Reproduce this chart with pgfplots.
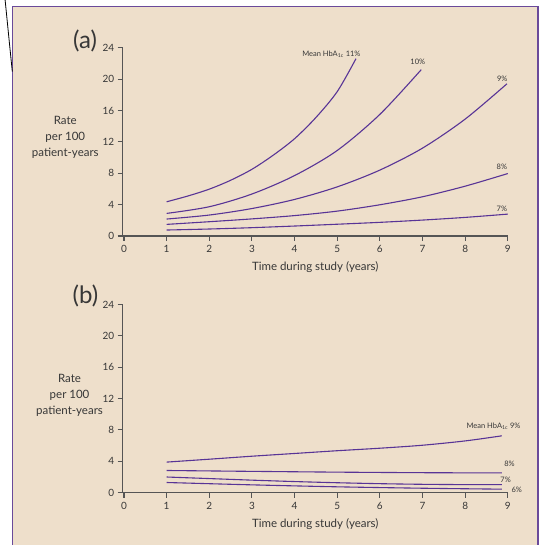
\documentclass[border=0pt]{standalone}
\usepackage{pgfplots}
\pgfplotsset{compat=1.18}
\usepackage{fontspec}
\setmainfont{Lato}
\definecolor{bg}{RGB}{238,223,203}
\definecolor{frame}{RGB}{106,74,154}
\definecolor{curve}{RGB}{88,52,150}
\definecolor{axcol}{RGB}{85,85,85}
\definecolor{txt}{RGB}{55,55,55}
\pgfplotsset{
  cv/.style={curve, line width=1.1pt, smooth, tension=0.5, no marks},
  panel/.style={
    scale only axis, width=385.1pt, height=188.3pt,
    xmin=-0.03, xmax=9, ymin=0, ymax=24,
    axis lines*=left, axis line style={axcol, line width=1.1pt},
    tick style={axcol, line width=1.1pt}, tick align=outside, major tick length=5pt,
    xtick={0,...,9}, ytick={0,4,...,24},
    ticklabel style={font=\fontsize{10}{12}\selectfont, text=txt},
    xticklabel style={yshift=-1pt},
    /pgf/number format/assume math mode=true,
    xlabel={Time during study (years)},
    xlabel style={font=\fontsize{11.5}{13}\selectfont, text=txt, at={(axis description cs:0.5,-0.166)}, anchor=center},
    ylabel={Rate\\per 100\\patient-years},
    ylabel style={rotate=-90, font=\fontsize{11.5}{16}\selectfont, text=txt, align=center, anchor=center},
    clip=false,
  }
}
\begin{document}
\begin{tikzpicture}[x=1pt,y=1pt]
\useasboundingbox (0,0) rectangle (543,545);
\clip (0,0) rectangle (543,545);
\fill[white] (0,0) rectangle (543,545);
\fill[bg] (12.3,-2) rectangle (537.7,538.3);
\draw[frame, line width=1.6pt] (12.3,-2) -- (12.3,538.3) -- (537.7,538.3) -- (537.7,-2);
\draw[black, line width=0.8pt] (5,546) -- (12.3,473.3);
\node[text=txt, font=\fontsize{24}{26}\selectfont] at (85,504.3) {(a)};
\node[text=txt, font=\fontsize{24}{26}\selectfont] at (85.5,249) {(b)};
% Panel (a)
\begin{axis}[panel, at={(122.7pt,309pt)}, anchor=south west,
  ylabel style={at={(axis description cs:-0.149,0.526)}}]
\addplot[cv] coordinates {(1,4.36) (1.5,5.1) (2,5.97) (2.5,7.1) (3,8.5) (3.5,10.3) (4,12.4) (4.5,15.1) (5,18.4) (5.44,22.6)};
\addplot[cv] coordinates {(1,2.88) (2,3.73) (3,5.35) (4,7.7) (5,10.9) (6,15.5) (6.97,21.2)};
\addplot[cv] coordinates {(1,2.16) (2,2.67) (3,3.5) (4,4.66) (5,6.26) (6,8.4) (7,11.2) (8,14.9) (8.98,19.4)};
\addplot[cv] coordinates {(1,1.48) (2,1.82) (3,2.18) (4,2.6) (5,3.17) (6,3.98) (7,5.0) (8,6.35) (9,7.96)};
\addplot[cv] coordinates {(1,0.76) (2,0.89) (3,1.06) (4,1.27) (5,1.5) (6,1.74) (7,2.03) (8,2.37) (9,2.79)};
\node[anchor=east, font=\fontsize{7.5}{9}\selectfont, text=txt, inner sep=0pt] at (axis cs:5.55,23.16) {Mean HbA\textsubscript{1c} 11\%};
\node[font=\fontsize{7.5}{9}\selectfont, text=txt, inner sep=0pt] at (axis cs:6.89,22.18) {10\%};
\node[font=\fontsize{7.5}{9}\selectfont, text=txt, inner sep=0pt] at (axis cs:8.87,20.05) {9\%};
\node[font=\fontsize{7.5}{9}\selectfont, text=txt, inner sep=0pt] at (axis cs:8.86,8.83) {8\%};
\node[font=\fontsize{7.5}{9}\selectfont, text=txt, inner sep=0pt] at (axis cs:8.86,3.40) {7\%};
\end{axis}
% Panel (b)
\begin{axis}[panel, at={(122.7pt,52.3pt)}, anchor=south west,
  ylabel style={at={(axis description cs:-0.138,0.519)}}]
\addplot[cv] coordinates {(1,3.9) (2,4.27) (3,4.65) (4,5.0) (5,5.35) (6,5.67) (7,6.05) (8,6.6) (8.86,7.25)};
\addplot[cv] coordinates {(1,2.83) (3,2.72) (5,2.62) (7,2.55) (8.86,2.52)};
\addplot[cv] coordinates {(1,2.0) (2,1.8) (3,1.6) (4,1.42) (5,1.27) (6,1.15) (7,1.07) (8,1.03) (8.86,1.02)};
\addplot[cv] coordinates {(1,1.3) (3,1.0) (5,0.75) (7,0.57) (8.86,0.45)};
\node[anchor=east, font=\fontsize{7.5}{9}\selectfont, text=txt, inner sep=0pt] at (axis cs:9.30,8.50) {Mean HbA\textsubscript{1c} 9\%};
\node[font=\fontsize{7.5}{9}\selectfont, text=txt, inner sep=0pt] at (axis cs:9.04,3.62) {8\%};
\node[font=\fontsize{7.5}{9}\selectfont, text=txt, inner sep=0pt] at (axis cs:8.95,1.62) {7\%};
\node[font=\fontsize{7.5}{9}\selectfont, text=txt, inner sep=0pt] at (axis cs:9.21,0.34) {6\%};
\end{axis}
\end{tikzpicture}
\end{document}
